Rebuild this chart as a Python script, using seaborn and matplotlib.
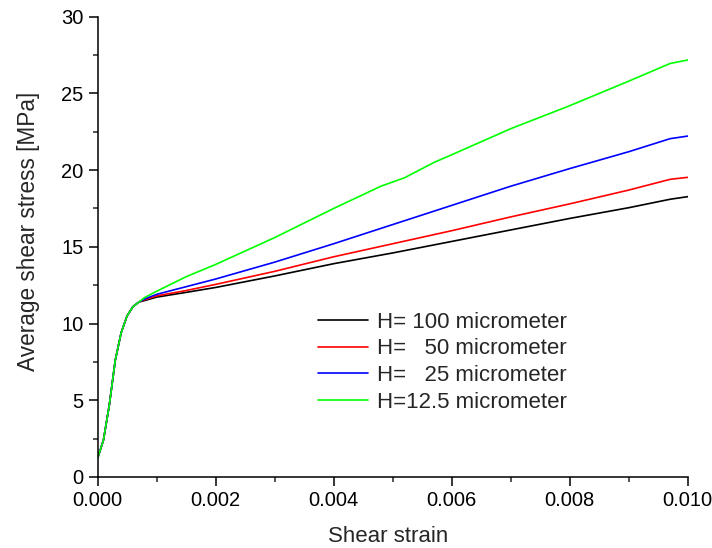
import numpy as np
import pandas as pd
import matplotlib
matplotlib.use("Agg")
import matplotlib.pyplot as plt
from matplotlib.ticker import MultipleLocator
import seaborn as sns

# shared elastic part
strain_init = [0.0, 0.0001, 0.0002, 0.0003, 0.0004, 0.0005, 0.0006, 0.0007]
stress_init = [1.2, 2.4, 4.7, 7.6, 9.4, 10.5, 11.1, 11.4]

strain_h100 = [0.0008, 0.001, 0.0015, 0.002, 0.003, 0.004, 0.005, 0.006, 0.007, 0.008, 0.009, 0.0097, 0.010]
stress_h100 = [11.5, 11.72, 12.03, 12.35, 13.1, 13.9, 14.6, 15.35, 16.1, 16.85, 17.55, 18.1, 18.27]

strain_h50 = [0.0008, 0.001, 0.0015, 0.002, 0.003, 0.004, 0.005, 0.006, 0.007, 0.008, 0.009, 0.0097, 0.010]
stress_h50 = [11.55, 11.8, 12.15, 12.55, 13.4, 14.35, 15.2, 16.05, 16.95, 17.8, 18.7, 19.4, 19.53]

strain_h25 = [0.0008, 0.001, 0.0015, 0.002, 0.003, 0.004, 0.005, 0.006, 0.007, 0.008, 0.009, 0.0097, 0.010]
stress_h25 = [11.6, 11.9, 12.4, 12.9, 14.0, 15.2, 16.45, 17.7, 18.95, 20.1, 21.2, 22.05, 22.22]

strain_h125 = [0.0008, 0.001, 0.0015, 0.002, 0.003, 0.004, 0.0048, 0.0052, 0.0057, 0.006, 0.007, 0.008, 0.009, 0.0097, 0.010]
stress_h125 = [11.7, 12.1, 13.05, 13.85, 15.6, 17.5, 18.95, 19.5, 20.5, 21.0, 22.7, 24.2, 25.8, 26.95, 27.18]

labels = ["H= 100 micrometer", "H=   50 micrometer", "H=   25 micrometer", "H=12.5 micrometer"]
colors = ["#000000", "#ff0000", "#0000ff", "#00ff00"]

series = [(strain_h100, stress_h100), (strain_h50, stress_h50),
          (strain_h25, stress_h25), (strain_h125, stress_h125)]
frames = []
for lab, (sx, sy) in zip(labels, series):
    frames.append(pd.DataFrame({"strain": strain_init + sx,
                                "stress": stress_init + sy,
                                "H": lab}))
df = pd.concat(frames, ignore_index=True)

sns.set_style("ticks")
plt.rcParams["font.family"] = ["Liberation Sans", "DejaVu Sans"]

fig = plt.figure(figsize=(7.12, 5.48), dpi=100)
ax = fig.add_axes([0.137, 0.1297, 0.829, 0.8398])

sns.lineplot(data=df, x="strain", y="stress", hue="H", hue_order=labels,
             palette=colors, linewidth=1.2, sort=False, estimator=None, ax=ax)

ax.set_xlim(0, 0.010)
ax.set_ylim(0, 30)
ax.xaxis.set_major_locator(MultipleLocator(0.002))
ax.xaxis.set_minor_locator(MultipleLocator(0.001))
ax.yaxis.set_major_locator(MultipleLocator(5))
ax.yaxis.set_minor_locator(MultipleLocator(2.5))
ax.set_xticklabels([f"{v:.3f}" for v in ax.get_xticks()])
ax.tick_params(which="major", direction="out", length=6.5, width=1.1, labelsize=14.5, colors="black")
ax.tick_params(which="minor", direction="out", length=3.5, width=1.1)
sns.despine(ax=ax)
for s in ["left", "bottom"]:
    ax.spines[s].set_linewidth(1.1)
    ax.spines[s].set_color("black")

ax.set_xlabel("Shear strain", fontsize=16, labelpad=12, x=0.493)
ax.set_ylabel("Average shear stress [MPa]", fontsize=16.3, labelpad=15, y=0.533)

leg = ax.legend(loc="upper left", bbox_to_anchor=(0.374, 0.359), frameon=False,
                fontsize=16, handlelength=2.25, handletextpad=0.4,
                labelspacing=0.26, borderaxespad=0, borderpad=0)
for line in leg.get_lines():
    line.set_linewidth(1.2)

fig.savefig("out.png", dpi=100)
